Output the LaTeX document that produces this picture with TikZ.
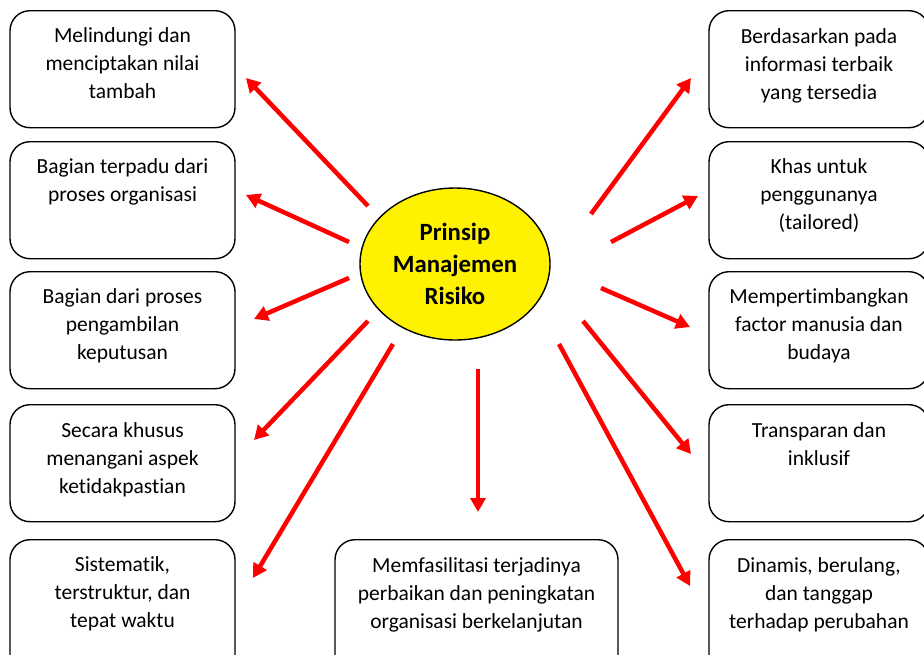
\documentclass[tikz,border=0pt]{standalone}
\usepackage{fontspec}
\setmainfont{Carlito}[Ligatures={NoCommon,NoRare,NoContextual},Contextuals={NoAlternate}]
\usetikzlibrary{shapes.geometric,arrows.meta}
% plain t followed by i, kept apart
\newcommand\tiplain{t\kern0pt i}
\begin{document}
\begin{tikzpicture}[x=1pt,y=-1pt,
  box/.style={draw=black,line width=1.4pt,rounded corners=20pt,fill=white,
    minimum width=#1,minimum height=117pt,inner sep=0pt,anchor=north},
  tall/.style={minimum height=135pt},
  txt/.style={font=\fontsize{21.5}{28}\selectfont,align=center,inner sep=0pt,
    anchor=north,execute at begin node=\vphantom{Ag}},
  arr/.style={draw=red,line width=4.5pt,-{Triangle[length=14pt,width=15pt]}}]
\useasboundingbox (0,0) rectangle (924,654);

% left column
\node[box=225pt] (l1) at (122.5,10) {};
\node[box=225pt] (l2) at (122.5,141) {};
\node[box=225pt] (l3) at (122.5,271) {};
\node[box=225pt] (l4) at (122.5,404) {};
\node[box=225pt,tall] (l5) at (122.5,539) {};
% right column
\node[box=220pt] (r1) at (819,10) {};
\node[box=220pt] (r2) at (819,141) {};
\node[box=220pt] (r3) at (819,271) {};
\node[box=220pt] (r4) at (819,404) {};
\node[box=220pt,tall] (r5) at (819,539) {};
% bottom middle
\node[box=283pt,tall] (m1) at (476.5,539) {};

% box texts
\node[txt] (tl1) at (122.5,27) {Melindungi dan\\menciptakan nilai\\tambah};
\node[txt] (tl2) at (122.5,158) {Bagian terpadu dari\\proses organisasi};
\node[txt] (tl3) at (122.5,288) {Bagian dari proses\\pengambilan\\keputusan};
\node[txt] (tl4) at (122.5,422) {Secara khusus\\menangani aspek\\ke\tiplain dakpas\tiplain an};
\node[txt] (tl5) at (122.5,556) {Sistema\tiplain k,\\terstruktur, dan\\tepat waktu};
\node[txt] (tr1) at (819,28) {Berdasarkan pada\\informasi terbaik\\yang tersedia};
\node[txt] (tr2) at (819,158) {Khas untuk\\penggunanya\\(tailored)};
\node[txt] (tr3) at (819,288) {Memper\tiplain mbangkan\\factor manusia dan\\budaya};
\node[txt] (tr4) at (819,422) {Transparan dan\\inklusif};
\node[txt] (tr5) at (819,557) {Dinamis, berulang,\\dan tanggap\\terhadap perubahan};
\node[txt] (tm1) at (476.5,557) {Memfasilitasi terjadinya\\perbaikan dan peningkatan\\organisasi berkelanjutan};

% central ellipse
\node[ellipse,draw=black,line width=1.4pt,fill=yellow,minimum width=190pt,
  minimum height=152pt,inner sep=0pt,align=center,
  font=\bfseries\fontsize{24.8}{32}\selectfont] (c) at (455,264)
  {Prinsip\\Manajemen\\Risiko};

% arrow end points
\coordinate (s1) at (368,206);  \coordinate (e1) at (246,78);
\coordinate (s2) at (349,242);  \coordinate (e2) at (246,195);
\coordinate (s3) at (349,278);  \coordinate (e3) at (254,319);
\coordinate (s4) at (368,321);  \coordinate (e4) at (254,440);
\coordinate (s5) at (393,344);  \coordinate (e5) at (253,578);
\coordinate (s6) at (478,369);  \coordinate (e6) at (478,512);
\coordinate (s7) at (559,344);  \coordinate (e7) at (690,586);
\coordinate (s8) at (583,321);  \coordinate (e8) at (691,454);
\coordinate (s9) at (601,288);  \coordinate (e9) at (690,327);
\coordinate (s10) at (611,242); \coordinate (e10) at (698,196);
\coordinate (s11) at (591,214); \coordinate (e11) at (691,78);

\foreach \i in {1,...,11} \draw[arr] (s\i) -- (e\i);
\end{tikzpicture}
\end{document}
